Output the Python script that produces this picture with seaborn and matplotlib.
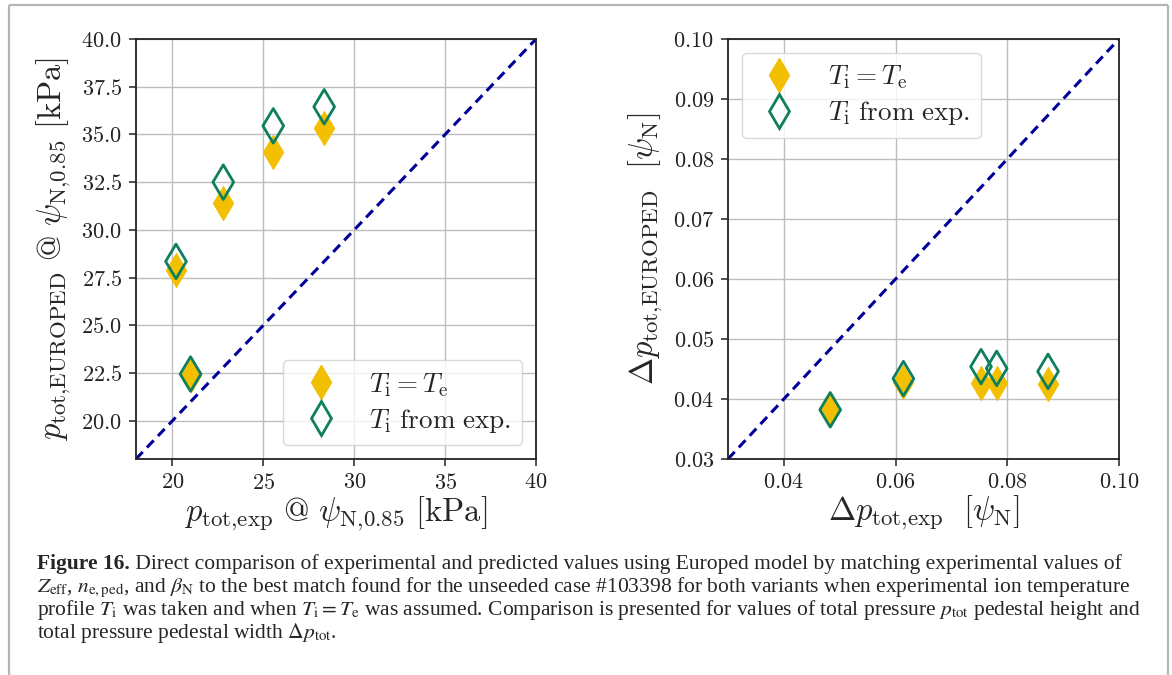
import numpy as np
import pandas as pd
import seaborn as sns
import matplotlib
matplotlib.use("Agg")
import matplotlib.pyplot as plt
from matplotlib.lines import Line2D

# ---------------- data ----------------
# left panel: total pressure pedestal height [kPa]
p_exp = [20.2, 21.0, 22.8, 25.55, 28.35]
p_te = [27.9, 22.4, 31.4, 34.1, 35.35]
p_tiexp = [28.35, 22.45, 32.5, 35.45, 36.45]
p_lim = [18.0, 40.0]
p_xticks = [20, 25, 30, 35, 40]
p_yticks = [20.0, 22.5, 25.0, 27.5, 30.0, 32.5, 35.0, 37.5, 40.0]

# right panel: total pressure pedestal width [psi_N]
w_exp = [0.0483, 0.0614, 0.0753, 0.0781, 0.0873]
w_te = [0.0382, 0.0429, 0.0427, 0.0427, 0.0425]
w_tiexp = [0.0382, 0.0434, 0.0454, 0.0451, 0.0446]
w_lim = [0.03, 0.10]
w_xticks = [0.04, 0.06, 0.08, 0.10]
w_yticks = [0.03, 0.04, 0.05, 0.06, 0.07, 0.08, 0.09, 0.10]

series_labels = [r"$T_\mathrm{i} = T_\mathrm{e}$", r"$T_\mathrm{i}\ \mathrm{from\ exp.}$"]

caption_bold = "Figure 16."
caption_lines = [
    " Direct comparison of experimental and predicted values using Europed model by matching experimental values of",
    r"$Z_\mathrm{eff}$, $n_\mathrm{e,ped}$, and $\beta_\mathrm{N}$ to the best match found for the unseeded case #103398 for both variants when experimental ion temperature",
    r"profile $T_\mathrm{i}$ was taken and when $T_\mathrm{i} = T_\mathrm{e}$ was assumed. Comparison is presented for values of total pressure $p_\mathrm{tot}$ pedestal height and",
    r"total pressure pedestal width $\Delta p_\mathrm{tot}$.",
]

# ---------------- style ----------------
sns.set_theme(style="whitegrid")
plt.rcParams.update({
    "font.family": "serif",
    "font.serif": ["cmr10", "DejaVu Serif"],
    "mathtext.fontset": "cm",
    "axes.unicode_minus": False,
    "axes.edgecolor": "#222222",
    "axes.linewidth": 1.3,
    "grid.color": "#bdbdbd",
    "grid.linewidth": 1.0,
    "xtick.bottom": True,
    "ytick.left": True,
    "xtick.major.size": 5,
    "ytick.major.size": 5,
    "xtick.major.width": 1.1,
    "ytick.major.width": 1.1,
    "xtick.major.pad": 5,
    "ytick.major.pad": 5,
    "xtick.color": "#222222",
    "ytick.color": "#222222",
    "legend.framealpha": 0.8,
})

GOLD = "#F2C000"
GREEN = "#0E7F5E"
NAVY = "#000099"

W, H = 1172, 675
fig = plt.figure(figsize=(W / 100, H / 100), dpi=100)

ax1 = fig.add_axes([136 / W, 1 - 459 / H, 400 / W, 420 / H])
ax2 = fig.add_axes([728 / W, 1 - 459 / H, 391 / W, 420 / H])

MS = 310
LABEL_FS = 23.5


def panel(ax, x, yte, yexp, lim, xticks, yticks, xfmt, yfmt, xlabel, ylabel, loc, ylpad):
    df = pd.DataFrame({"x": x, "te": yte, "exp": yexp})
    ax.plot(lim, lim, ls=(0, (3.2, 2.0)), color=NAVY, lw=2.2, zorder=2)
    sns.scatterplot(data=df, x="x", y="te", ax=ax, marker="d", s=MS,
                    color=GOLD, edgecolor=GOLD, linewidth=0.5, zorder=3, legend=False)
    sns.scatterplot(data=df, x="x", y="exp", ax=ax, marker="d", s=MS,
                    facecolor="none", edgecolor=GREEN, linewidth=2.0, zorder=4, legend=False)
    ax.set_xlim(lim)
    ax.set_ylim(lim)
    ax.set_xticks(xticks)
    ax.set_yticks(yticks)
    ax.set_xticklabels(["$" + xfmt.format(v) + "$" for v in xticks], fontsize=16)
    ax.set_yticklabels(["$" + yfmt.format(v) + "$" for v in yticks], fontsize=16)
    ax.set_xlabel(xlabel, fontsize=LABEL_FS, labelpad=1)
    ax.set_ylabel(ylabel, fontsize=LABEL_FS, labelpad=ylpad)
    for s in ax.spines.values():
        s.set_visible(True)
        s.set_color("#222222")
    ax.grid(True, zorder=0)
    ax.set_axisbelow(True)
    handles = [
        Line2D([], [], ls="none", marker="d", ms=17, color=GOLD, mec=GOLD),
        Line2D([], [], ls="none", marker="d", ms=17, mfc="none", mec=GREEN, mew=2.0),
    ]
    leg = ax.legend(handles, series_labels, loc=loc, fontsize=19.5, frameon=True,
                    fancybox=True, borderpad=0.4, labelspacing=0.3,
                    handlelength=2.0, handletextpad=0.8, borderaxespad=0.5)
    leg.get_frame().set_edgecolor("#d0d0d0")
    leg.get_frame().set_linewidth(1.0)


panel(ax1, p_exp, p_te, p_tiexp, p_lim, p_xticks, p_yticks, "{:.0f}", "{:.1f}",
      r"$p_\mathrm{tot{,}exp}\ @\ \psi_\mathrm{N{,}0.85}\ [\mathrm{kPa}]$",
      r"$p_\mathrm{tot{,}EUROPED}\ @\ \psi_\mathrm{N{,}0.85}\ [\mathrm{kPa}]$", "lower right", 6)
panel(ax2, w_exp, w_te, w_tiexp, w_lim, w_xticks, w_yticks, "{:.2f}", "{:.2f}",
      r"$\Delta p_\mathrm{tot{,}exp}\ \ [\psi_\mathrm{N}]$",
      r"$\Delta p_\mathrm{tot{,}EUROPED}\ \ [\psi_\mathrm{N}]$", "upper left", 6)

# ---------------- figure frame ----------------
frame_kw = dict(transform=None, color="#b5b5b5", lw=1.6, solid_capstyle="butt")
fig.add_artist(Line2D([8.5, 8.5], [0, H - 4.5], **frame_kw))
fig.add_artist(Line2D([8.5, 1167.5], [H - 4.5, H - 4.5], **frame_kw))
fig.add_artist(Line2D([1167.5, 1167.5], [0, H - 4.5], **frame_kw))

# ---------------- caption ----------------
cap_font = "Liberation Serif"
x0 = 37 / W
baselines = [569, 592, 615, 638]
fs0 = 12.0
texts = []
tb = fig.text(x0, 1 - baselines[0] / H, caption_bold, fontsize=fs0, fontweight="bold",
              family=cap_font, va="baseline", ha="left")
for i, line in enumerate(caption_lines):
    t = fig.text(x0, 1 - baselines[i] / H, line, fontsize=fs0, family=cap_font,
                 va="baseline", ha="left", math_fontfamily="stix")
    texts.append(t)

renderer = fig.canvas.get_renderer()
target = 1127 - 37
wline = texts[1].get_window_extent(renderer).width
fs = fs0 * target / wline
tb.set_fontsize(fs)
for t in texts:
    t.set_fontsize(fs)
bb = tb.get_window_extent(renderer)
texts[0].set_x(bb.x1 / W)

fig.savefig("out.png", dpi=100)
